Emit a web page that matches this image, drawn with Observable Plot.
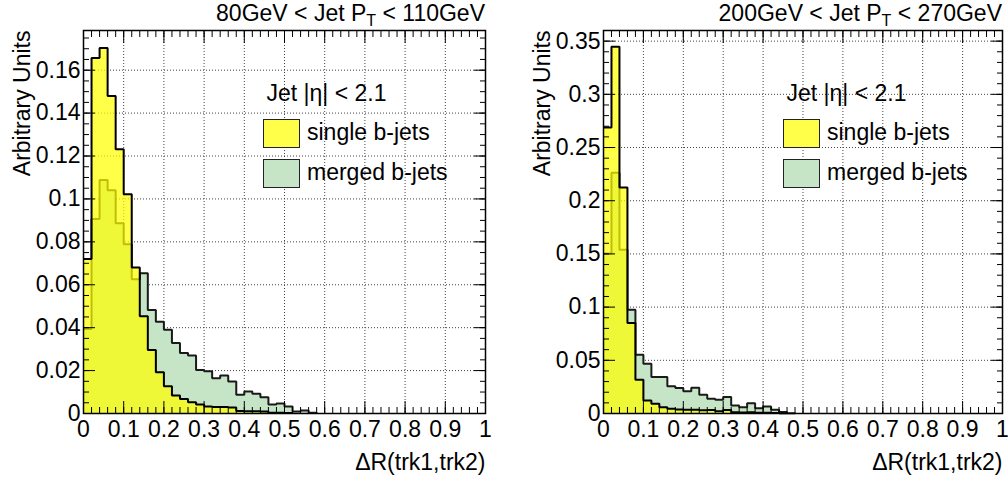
<!DOCTYPE html>
<html><head><meta charset="utf-8">
<script src="https://cdn.jsdelivr.net/npm/d3@7"></script>
<script src="https://cdn.jsdelivr.net/npm/@observablehq/plot@0.6"></script>
<style>
html,body{margin:0;padding:0;background:#fff;}
#wrap{position:relative;width:1008px;height:478px;overflow:hidden;font-family:"Liberation Sans",Arial,Helvetica,sans-serif;color:#000;}
.panel{position:absolute;top:0;width:504px;height:478px;}
.ttl{position:absolute;top:2px;font-size:23px;line-height:1;white-space:nowrap;text-align:right;}
.ttl sub{font-size:16px;vertical-align:-5px;line-height:0;}
.leg{position:absolute;font-size:23px;line-height:1;white-space:nowrap;}
.box{position:absolute;width:35px;height:27px;border:1px solid #222;}
</style></head><body><div id="wrap"></div>
<script>
// ---- data ----
const binWidth = 0.02;
const xTickLabels = [0, 0.1, 0.2, 0.3, 0.4, 0.5, 0.6, 0.7, 0.8, 0.9, 1];
const xGridValues = [0.1, 0.2, 0.3, 0.4, 0.5, 0.6, 0.7, 0.8, 0.9];

const titles = ["80GeV &lt; Jet P<sub>T</sub> &lt; 110GeV", "200GeV &lt; Jet P<sub>T</sub> &lt; 270GeV"];
const legendHeader = "Jet |η| < 2.1";
const seriesNames = ["single b-jets", "merged b-jets"];
const yTitle = "Arbitrary Units";
const xTitle = "ΔR(trk1,trk2)";

// panel 1 (80-110 GeV)
const yTicks1 = [0, 0.02, 0.04, 0.06, 0.08, 0.1, 0.12, 0.14, 0.16];
const single1 = [0.072, 0.1657, 0.1704, 0.148, 0.1231, 0.1022, 0.068, 0.0453, 0.0296, 0.0192, 0.0127, 0.0084, 0.0068, 0.0053, 0.0042, 0.0033, 0.0030, 0.0030, 0.0028, 0.0012, 0.0011, 0.0010, 0.0009, 0.0004, 0.0003, 0.0002];
const merged1 = [0.0394, 0.0906, 0.1088, 0.104, 0.0887, 0.0789, 0.0626, 0.0654, 0.0482, 0.0428, 0.039, 0.0329, 0.0282, 0.027, 0.0203, 0.0197, 0.0164, 0.0177, 0.0149, 0.0087, 0.0102, 0.0092, 0.0076, 0.0042, 0.0047, 0.0033, 0.0009, 0.0014, 0.0003];

// panel 2 (200-270 GeV)
const yTicks2 = [0, 0.05, 0.1, 0.15, 0.2, 0.25, 0.3, 0.35];
const single2 = [0.2689, 0.3447, 0.2124, 0.085, 0.0317, 0.0122, 0.0091, 0.0059, 0.0044, 0.0038, 0.0035, 0.0035, 0.003, 0.0032, 0.002, 0.0033, 0.0012, 0.001, 0.0012, 0.0008, 0.0006, 0.0004, 0.0002];
const merged2 = [0.1503, 0.2262, 0.154, 0.0976, 0.0552, 0.0467, 0.0342, 0.0342, 0.0257, 0.0240, 0.021, 0.0242, 0.0176, 0.0138, 0.0129, 0.0154, 0.0075, 0.0059, 0.0097, 0.005, 0.0066, 0.0035, 0.0013, 0.0003];

const FONT = '"Liberation Sans", Arial, Helvetica, sans-serif';
const YELLOW = "#ffff00";
const GREEN = "#c6e5c6";

function rowsOf(vals) {
  return vals.map((v, i) => ({x: i * binWidth, v})).concat([{x: vals.length * binWidth, v: 0}]);
}

function makePanel(cfg) {
  const S = rowsOf(cfg.single), M = rowsOf(cfg.merged);
  const xMinor = d3.range(0, 1.0001, 0.02);
  const yMinor = d3.range(0, cfg.ymax, cfg.yMinorStep);
  const tk = {stroke: "#000", strokeWidth: 1, fill: "none", label: null};
  const grid = {stroke: "#444", strokeOpacity: 1, strokeWidth: 1, strokeDasharray: "1,2"};
  return Plot.plot({
    width: 504, height: 478,
    marginLeft: cfg.ml, marginRight: cfg.mr, marginTop: 30, marginBottom: 65,
    style: {fontFamily: FONT, fontSize: "22px", color: "#000", background: "transparent", overflow: "visible"},
    x: {domain: [0, 1]},
    y: {domain: [0, cfg.ymax]},
    marks: [
      Plot.gridX(xGridValues, grid),
      Plot.gridY(cfg.yTicks.filter(d => d > 0), grid),
      Plot.areaY(M, {x: "x", y: "v", curve: "step-after", fill: GREEN}),
      Plot.lineY(M, {x: "x", y: "v", curve: "step-after", stroke: "#1a1a1a", strokeWidth: 2, strokeLinejoin: "miter", strokeLinecap: "butt"}),
      Plot.areaY(S, {x: "x", y: "v", curve: "step-after", fill: YELLOW, fillOpacity: 0.72}),
      Plot.lineY(S, {x: "x", y: "v", curve: "step-after", stroke: "#000", strokeWidth: 2, strokeLinejoin: "miter", strokeLinecap: "butt"}),
      Plot.frame({stroke: "#000", strokeWidth: 1.5}),
      // inward ticks on all four sides
      Plot.axisX({anchor: "bottom", ticks: xTickLabels, tickSize: -12, ...tk}),
      Plot.axisX({anchor: "bottom", ticks: xMinor, tickSize: -6, ...tk}),
      Plot.axisX({anchor: "top", ticks: xTickLabels, tickSize: -12, ...tk}),
      Plot.axisX({anchor: "top", ticks: xMinor, tickSize: -6, ...tk}),
      Plot.axisY({anchor: "left", ticks: cfg.yTicks, tickSize: -12, ...tk}),
      Plot.axisY({anchor: "left", ticks: yMinor, tickSize: -6, ...tk}),
      Plot.axisY({anchor: "right", ticks: cfg.yTicks, tickSize: -12, ...tk}),
      Plot.axisY({anchor: "right", ticks: yMinor, tickSize: -6, ...tk}),
      // labels
      Plot.axisX({anchor: "bottom", ticks: xTickLabels, tickSize: 0, tickPadding: 7, tickFormat: d => String(d), label: null, fontSize: 23}),
      Plot.axisY({anchor: "left", ticks: cfg.yTicks, tickSize: 0, tickPadding: 3, tickFormat: d => String(d), label: null, fontSize: 23}),
      Plot.text([yTitle], {text: d => d, frameAnchor: "top-left", rotate: -90, textAnchor: "end", lineAnchor: "middle", dx: -61, fontSize: 23}),
      Plot.text([xTitle], {text: d => d, frameAnchor: "bottom-right", textAnchor: "end", lineAnchor: "middle", dy: 49, fontSize: 23})
    ]
  });
}

const wrap = document.getElementById("wrap");
const panels = [
  {left: 0, ml: 83, mr: 19, ymax: 0.1785, yTicks: yTicks1, yMinorStep: 0.005, single: single1, merged: merged1, title: titles[0]},
  {left: 504, ml: 99, mr: 6, ymax: 0.36, yTicks: yTicks2, yMinorStep: 0.01, single: single2, merged: merged2, title: titles[1]}
];
panels.forEach(cfg => {
  const div = document.createElement("div");
  div.className = "panel";
  div.style.left = cfg.left + "px";
  div.appendChild(makePanel(cfg));
  wrap.appendChild(div);
  const fl = cfg.left + cfg.ml;            // frame left (page px)
  const fr = cfg.left + 504 - cfg.mr;      // frame right
  const t = document.createElement("div");
  t.className = "ttl";
  t.style.right = (1008 - fr) + "px";
  t.innerHTML = cfg.title;
  wrap.appendChild(t);
  const add = (cls, css, html) => {
    const e = document.createElement("div");
    e.className = cls; Object.assign(e.style, css);
    if (html != null) e.textContent = html;
    wrap.appendChild(e);
  };
  add("leg", {left: (fl + 183.5) + "px", top: "82px"}, legendHeader);
  add("box", {left: (fl + 180) + "px", top: "119px", background: "#ffff4a"});
  add("leg", {left: (fl + 224) + "px", top: "120.5px"}, seriesNames[0]);
  add("box", {left: (fl + 180) + "px", top: "159px", background: GREEN});
  add("leg", {left: (fl + 224) + "px", top: "160.5px"}, seriesNames[1]);
});
</script>
</body></html>
